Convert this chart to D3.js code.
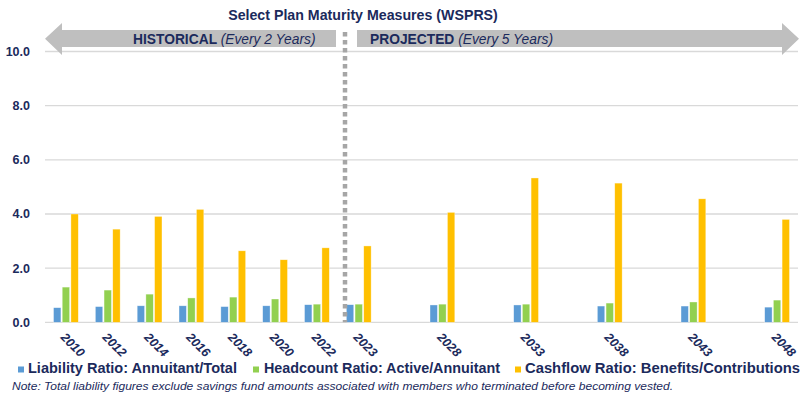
<!DOCTYPE html>
<html>
<head>
<meta charset="utf-8">
<script src="https://cdn.jsdelivr.net/npm/d3@7"></script>
<style>
  body { margin: 0; background: #fff; }
  svg { font-family: "Liberation Sans", Arial, sans-serif; }
</style>
</head>
<body>
<script>
  // Categories (blank slots keep the wider spacing of the projected years)
  const categories = ['2010', '2012', '2014', '2016', '2018', '2020', '2022', '2023', '', '2028', '', '2033', '', '2038', '', '2043', '', '2048'];
  const years = ['2010', '2012', '2014', '2016', '2018', '2020', '2022', '2023', '2028', '2033', '2038', '2043', '2048'];

  // Series values
  const liability = [0.54, 0.58, 0.61, 0.61, 0.58, 0.61, 0.65, 0.65, 0.64, 0.64, 0.60, 0.60, 0.56];
  const headcount = [1.30, 1.19, 1.04, 0.90, 0.93, 0.86, 0.67, 0.67, 0.67, 0.67, 0.71, 0.75, 0.82];
  const cashflow = [4.00, 3.44, 3.91, 4.17, 2.64, 2.31, 2.75, 2.82, 4.06, 5.33, 5.14, 4.56, 3.80];

  const yTicks = [0, 2, 4, 6, 8, 10];

  const seriesNames = ['Liability Ratio: Annuitant/Total', 'Headcount Ratio: Active/Annuitant', 'Cashflow Ratio: Benefits/Contributions'];
  const colors = ['#5b9bd5', '#92d050', '#ffc000'];
  const navy = '#1b2a5c';

  const width = 808;
  const height = 399;
  const plot = { left: 45, right: 798, top: 51.5, bottom: 322.3 };

  const svg = d3.select('body')
    .append('svg')
    .attr('width', width)
    .attr('height', height);

  // Scales
  const x = d3.scaleBand()
    .domain(d3.range(categories.length))
    .range([plot.left, plot.right])
    .padding(0);

  const y = d3.scaleLinear()
    .domain([0, 10])
    .range([plot.bottom, plot.top]);

  // Gridlines
  svg.append('g')
    .selectAll('line')
    .data(yTicks)
    .enter()
    .append('line')
    .attr('x1', plot.left)
    .attr('x2', plot.right)
    .attr('y1', d => y(d))
    .attr('y2', d => y(d))
    .attr('stroke', '#d9d9d9')
    .attr('stroke-width', 1.3);

  // Y labels
  svg.append('g')
    .selectAll('text')
    .data(yTicks)
    .enter()
    .append('text')
    .attr('x', 30)
    .attr('y', d => y(d) + 4.5)
    .attr('text-anchor', 'end')
    .attr('fill', navy)
    .style('font-size', '12.5px')
    .style('font-weight', 'bold')
    .text(d => d.toFixed(1));

  // Bars
  const rows = years.map((yr, i) => ({
    idx: categories.indexOf(yr),
    vals: [liability[i], headcount[i], cashflow[i]]
  }));

  const step = 8.7;
  const barW = 7.4;

  const groups = svg.append('g')
    .selectAll('g')
    .data(rows)
    .enter()
    .append('g')
    .attr('transform', d => `translate(${x(d.idx) + x.bandwidth() / 2}, 0)`);

  groups.selectAll('rect')
    .data(d => d.vals)
    .enter()
    .append('rect')
    .attr('x', (d, i) => (i - 1) * step - barW / 2)
    .attr('y', d => y(d))
    .attr('width', barW)
    .attr('height', d => y(0) - y(d))
    .attr('fill', (d, i) => colors[i])
    .attr('stroke', 'rgba(255,255,255,0.6)')
    .attr('stroke-width', 0.6);

  // X labels (rotated)
  svg.append('g')
    .selectAll('text')
    .data(years)
    .enter()
    .append('text')
    .attr('transform', d => `translate(${x(categories.indexOf(d)) + x.bandwidth() / 2 - 6}, 338) rotate(45)`)
    .attr('fill', navy)
    .style('font-size', '12.5px')
    .style('font-weight', 'bold')
    .style('font-style', 'italic')
    .text(d => d);

  // Arrows
  const arrowCol = '#bfbfbf';
  const sTop = 30, sBot = 47, hTop = 23, hBot = 55, mid = 38.8;
  svg.append('path')
    .attr('d', `M45,${mid} L62,${hTop} L62,${sTop} L336,${sTop} L336,${sBot} L62,${sBot} L62,${hBot} Z`)
    .attr('fill', arrowCol);
  svg.append('path')
    .attr('d', `M799,${mid} L782,${hTop} L782,${sTop} L357,${sTop} L357,${sBot} L782,${sBot} L782,${hBot} Z`)
    .attr('fill', arrowCol);

  const arrowText = (xPos, bold, rest) => {
    const t = svg.append('text')
      .attr('x', xPos)
      .attr('y', 44)
      .attr('fill', navy)
      .style('font-size', '13.8px');
    t.append('tspan').style('font-weight', 'bold').text(bold);
    t.append('tspan').style('font-style', 'italic').text(rest);
  };
  arrowText(133, 'HISTORICAL ', '(Every 2 Years)');
  arrowText(370, 'PROJECTED ', '(Every 5 Years)');

  // Divider between historical and projected
  svg.append('line')
    .attr('x1', 345)
    .attr('x2', 345)
    .attr('y1', 32)
    .attr('y2', plot.bottom)
    .attr('stroke', '#a6a6a6')
    .attr('stroke-width', 4.5)
    .attr('stroke-dasharray', '4.5 3.5');

  // Title
  svg.append('text')
    .attr('x', 363)
    .attr('y', 20)
    .attr('text-anchor', 'middle')
    .attr('fill', navy)
    .style('font-size', '14.2px')
    .style('font-weight', 'bold')
    .text('Select Plan Maturity Measures (WSPRS)');

  // Legend
  const legX = [[18, 28, 209], [253, 264, 236], [515, 525, 275]];
  const leg = svg.append('g');
  seriesNames.forEach((name, i) => {
    leg.append('rect')
      .attr('x', legX[i][0])
      .attr('y', 366.5)
      .attr('width', 6)
      .attr('height', 6)
      .attr('fill', colors[i]);
    leg.append('text')
      .attr('x', legX[i][1])
      .attr('y', 373)
      .attr('fill', navy)
      .attr('textLength', legX[i][2])
      .attr('lengthAdjust', 'spacingAndGlyphs')
      .style('font-size', '15px')
      .style('font-weight', 'bold')
      .text(name);
  });

  // Note
  svg.append('text')
    .attr('x', 12)
    .attr('y', 390)
    .attr('fill', navy)
    .attr('textLength', 661)
    .attr('lengthAdjust', 'spacingAndGlyphs')
    .style('font-size', '11px')
    .style('font-style', 'italic')
    .text('Note: Total liability figures exclude savings fund amounts associated with members who terminated before becoming vested.');
</script>
</body>
</html>
